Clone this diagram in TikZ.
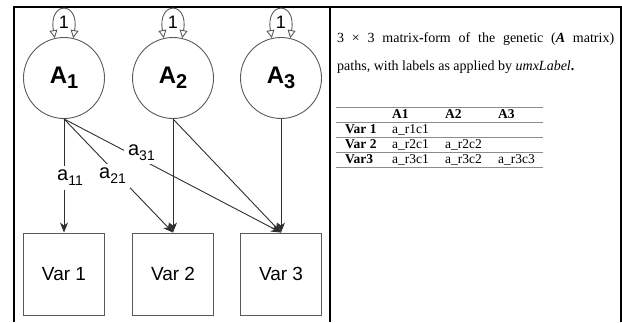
\documentclass[tikz,border=0pt]{standalone}
\usepackage{fontspec}
\setmainfont{Liberation Serif}
\newfontfamily\diagfont{Liberation Sans}
\usetikzlibrary{arrows.meta}
\definecolor{linegray}{gray}{0.35}
\definecolor{pathgray}{gray}{0.18}
\definecolor{rulegray}{gray}{0.55}
% lowered index set in the current text font
\newcommand\subidx[2]{\raisebox{-5pt}{\fontsize{#1}{#1}\selectfont #2}}
\begin{document}
\begin{tikzpicture}[x=1pt,y=1pt,
  latent/.style={circle, draw=linegray, line width=0.9pt, minimum size=81pt,
    inner sep=0pt, font=\diagfont\fontsize{24}{24}\selectfont},
  manifest/.style={rectangle, draw=linegray, line width=0.9pt,
    minimum width=81pt, minimum height=82pt, inner sep=0pt,
    font=\diagfont\fontsize{19}{19}\selectfont},
  causal/.style={draw=pathgray, line width=0.9pt,
    -{Stealth[length=10pt,width=8pt,inset=3pt]}},
  varloop/.style={draw=linegray, line width=0.9pt,
    {Triangle[open,length=8pt,width=8pt]}-{Triangle[open,length=8pt,width=8pt]}},
  loopval/.style={inner sep=0pt, font=\diagfont\fontsize{18}{18}\selectfont},
  coef/.style={fill=white, inner sep=4pt, font=\diagfont\fontsize{20}{20}\selectfont},
  frameline/.style={line width=1.1pt, draw=black},
  tablerule/.style={draw=rulegray, line width=0.8pt},
  captext/.style={anchor=base west, inner sep=0pt, font=\fontsize{14}{16}\selectfont},
  cell/.style={anchor=base west, inner sep=0pt, font=\fontsize{13.5}{14}\selectfont},
  head/.style={cell, font=\bfseries\fontsize{13.5}{14}\selectfont},
]
\useasboundingbox (0,0) rectangle (622,322);

% page frame with the column divider
\draw[frameline] (14,0) -- (14,315) -- (621,315) -- (621,0);
\draw[frameline] (330,315) -- (330,0);

% latent factors
\node[latent] (A1) at (64,244)  {\bfseries A\subidx{20}{1}};
\node[latent] (A2) at (173,244) {\bfseries A\subidx{20}{2}};
\node[latent] (A3) at (281,244) {\bfseries A\subidx{20}{3}};

% observed variables
\node[manifest] (V1) at (64,48)  {Var 1};
\node[manifest] (V2) at (173,48) {Var 2};
\node[manifest] (V3) at (281,48) {Var 3};

% unit variances
\foreach \f in {A1,A2,A3}{
  \draw[varloop] (\f.77) .. controls +(80:38) and +(100:38) .. (\f.103);
  \node[loopval] (\f var) at ([yshift=56pt]\f.center) {1};
}

% genetic paths
\draw[causal] (A1.south) -- node[coef, pos=0.52, xshift=6pt] (c11) {a\subidx{14}{11}} (V1.north);
\draw[causal] (A1.south) -- node[coef, pos=0.5, xshift=-6pt] (c21) {a\subidx{14}{21}} (V2.north);
\draw[causal] (A1.south) -- node[coef, pos=0.357, yshift=7pt] (c31) {a\subidx{14}{31}} (V3.north);
\draw[causal] (A2.south) -- (V2.north);
\draw[causal] (A2.south) -- (V3.north);
\draw[causal] (A3.south) -- (V3.north);

% caption
\node[captext] (cap1) at (337,279)
  {\makebox[277pt][s]{3 × 3 matrix\textbf{-}form of the genetic (\textbf{\textit{A}} matrix)}};
\node[captext] (cap2) at (337,251)
  {paths, with labels as applied by \textit{umxLabel}\textbf{.}};

% label table
\foreach \y in {215,200,185,170,155}
  \draw[tablerule] (336,\y) -- (543,\y);
\node[head] (hA1) at (392,203) {A1};
\node[head] (hA2) at (445,203) {A2};
\node[head] (hA3) at (498,203) {A3};
\node[head] (r1) at (345,188) {Var 1};
\node[head] (r2) at (345,173) {Var 2};
\node[head] (r3) at (345,158) {Var3};
\node[cell] (c1a) at (392,188) {a\_r1c1};
\node[cell] (c2a) at (392,173) {a\_r2c1};
\node[cell] (c2b) at (445,173) {a\_r2c2};
\node[cell] (c3a) at (392,158) {a\_r3c1};
\node[cell] (c3b) at (445,158) {a\_r3c2};
\node[cell] (c3c) at (498,158) {a\_r3c3};
\end{tikzpicture}
\end{document}
